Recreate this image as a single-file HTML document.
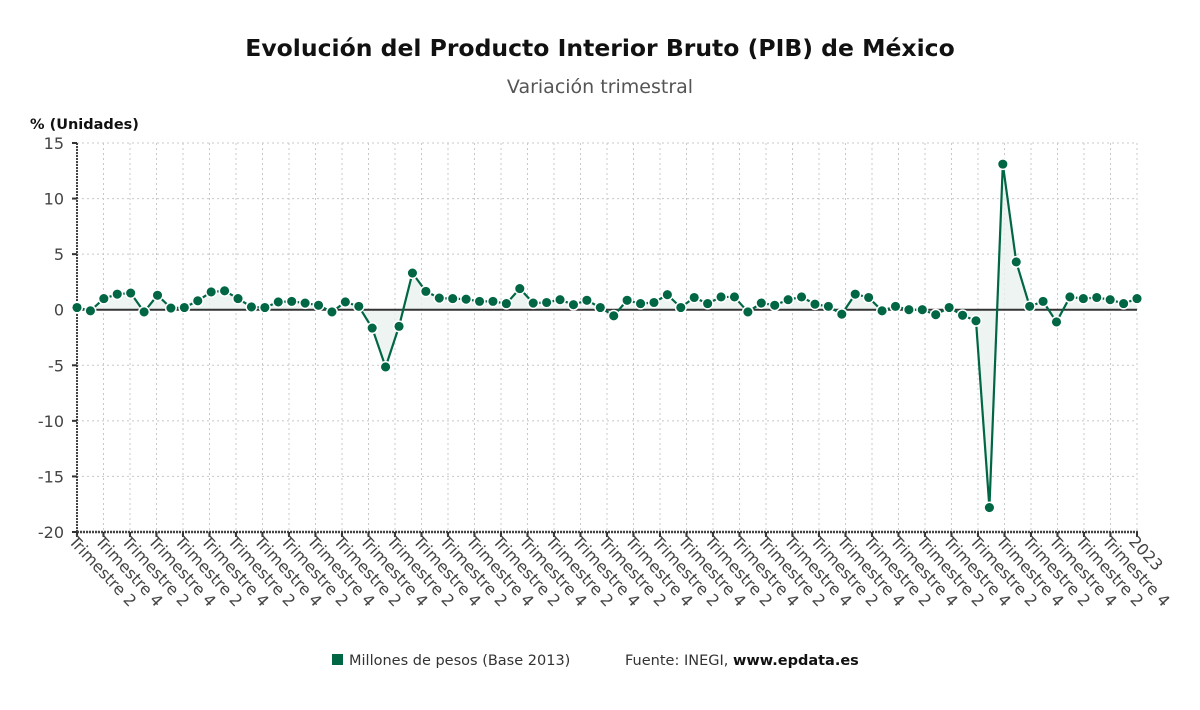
<!DOCTYPE html>
<html><head><meta charset="utf-8">
<style>
body{margin:0;background:#fff;font-family:"Liberation Sans","DejaVu Sans",sans-serif;}
svg text{font-family:"DejaVu Sans","Liberation Sans",sans-serif;}
</style></head>
<body>
<svg id="chart" width="1200" height="705" viewBox="0 0 1200 705" xmlns="http://www.w3.org/2000/svg">
<text x="600" y="56" text-anchor="middle" font-size="23.5" font-weight="bold" fill="#111">Evolución del Producto Interior Bruto (PIB) de México</text>
<text x="600" y="93" text-anchor="middle" font-size="19" fill="#555">Variación trimestral</text>
<text x="30" y="129" font-size="14.5" font-weight="bold" fill="#111">% (Unidades)</text>
<g id="grid"></g>
<g id="yticks"></g>
<g id="xticks"></g>
<path id="area" fill="#e9f1ee" fill-opacity="0.8"/>
<line id="zero" stroke="#333" stroke-width="2"/>
<path id="line" fill="none" stroke="#006644" stroke-width="2.2"/>
<g id="dots"></g>
<g>
<rect x="332" y="654" width="11" height="11" fill="#006644"/>
<text x="349" y="665" font-size="14.5" fill="#333">Millones de pesos (Base 2013)</text>
<text x="625" y="665" font-size="14.5" fill="#333">Fuente: INEGI, <tspan font-weight="bold" fill="#111">www.epdata.es</tspan></text>
</g>
</svg>
<script>
const values = [0.2,-0.1,1.0,1.4,1.5,-0.2,1.3,0.15,0.2,0.8,1.6,1.7,1.0,0.25,0.2,0.7,0.75,0.6,0.4,-0.2,0.7,0.3,-1.65,-5.15,-1.5,3.3,1.65,1.05,1.0,0.95,0.75,0.75,0.55,1.9,0.6,0.65,0.9,0.45,0.85,0.2,-0.55,0.85,0.55,0.65,1.35,0.2,1.1,0.55,1.15,1.15,-0.2,0.6,0.4,0.9,1.15,0.5,0.3,-0.4,1.4,1.1,-0.1,0.3,0,0,-0.45,0.2,-0.5,-1.0,-17.8,13.1,4.3,0.3,0.75,-1.1,1.15,1.0,1.1,0.9,0.55,1.0];
const yTicks = [15,10,5,0,-5,-10,-15,-20];
const xLabelsCycle = ["Trimestre 2","Trimestre 4"];
const lastLabel = "2023";
const tickCount = 41;
const NS="http://www.w3.org/2000/svg";
const x0=77,x1=1137,yTop=143,yBot=532,yMax=15,yMin=-20;
const n=values.length;
const X=i=>x0+(x1-x0)*i/(n-1);
const TX=k=>x0+(x1-x0)*k/(tickCount-1);
const Y=v=>yTop+(yMax-v)*(yBot-yTop)/(yMax-yMin);
function mk(tag,attrs,parent){const e=document.createElementNS(NS,tag);for(const k in attrs)e.setAttribute(k,attrs[k]);parent.appendChild(e);return e;}
const grid=document.getElementById('grid');
const yt=document.getElementById('yticks');
const xt=document.getElementById('xticks');
yTicks.forEach(v=>{
  const l=mk('line',{x1:x0,x2:x1,y1:Y(v),y2:Y(v),stroke:'#c8c8c8','stroke-dasharray':'2,3'},grid);
  
  
  const t=mk('text',{x:64,y:Y(v)+6,'text-anchor':'end','font-size':'16',fill:'#444'},yt);
  
  
  t.textContent=v;
  mk('line',{x1:x0-5,x2:x0,y1:Y(v),y2:Y(v),stroke:'#333','stroke-width':2},yt);
});
for(let k=0;k<tickCount;k++){
  const l=mk('line',{x1:TX(k),x2:TX(k),y1:yTop,y2:yBot,stroke:'#c8c8c8','stroke-dasharray':'2,3'},grid);
  
  
}
mk('line',{x1:x0,x2:x0,y1:yTop,y2:yBot,stroke:'#444','stroke-width':2,'stroke-dasharray':'2,1'},grid);
mk('line',{x1:x0,x2:x1+1,y1:yBot,y2:yBot,stroke:'#444','stroke-width':2.5,'stroke-dasharray':'2,1'},grid);
function xlabel(k,txt){
  mk('line',{x1:TX(k),x2:TX(k),y1:yBot,y2:yBot+5,stroke:'#333','stroke-width':2},xt);
  const t=mk('text',{x:0,y:0,'font-size':'16',fill:'#444',transform:`translate(${TX(k)-9},${yBot+10}) rotate(47)`},xt);
  
  
  t.textContent=txt;
}
for(let k=0;k<tickCount-1;k++) xlabel(k,xLabelsCycle[k%2]);
xlabel(tickCount-1,lastLabel);
const z=document.getElementById('zero');
z.setAttribute('x1',x0);z.setAttribute('x2',x1);z.setAttribute('y1',Y(0));z.setAttribute('y2',Y(0));
let d='';values.forEach((v,i)=>{d+=(i?'L':'M')+X(i)+','+Y(v);});
document.getElementById('line').setAttribute('d',d);
document.getElementById('area').setAttribute('d',d+`L${X(n-1)},${Y(0)}L${X(0)},${Y(0)}Z`);
const dots=document.getElementById('dots');
values.forEach((v,i)=>{
  const c=mk('circle',{cx:X(i),cy:Y(v),r:5.3,fill:'#006644',stroke:'#fff','stroke-width':1.5},dots);
  
  
});
</script>
</body></html>
